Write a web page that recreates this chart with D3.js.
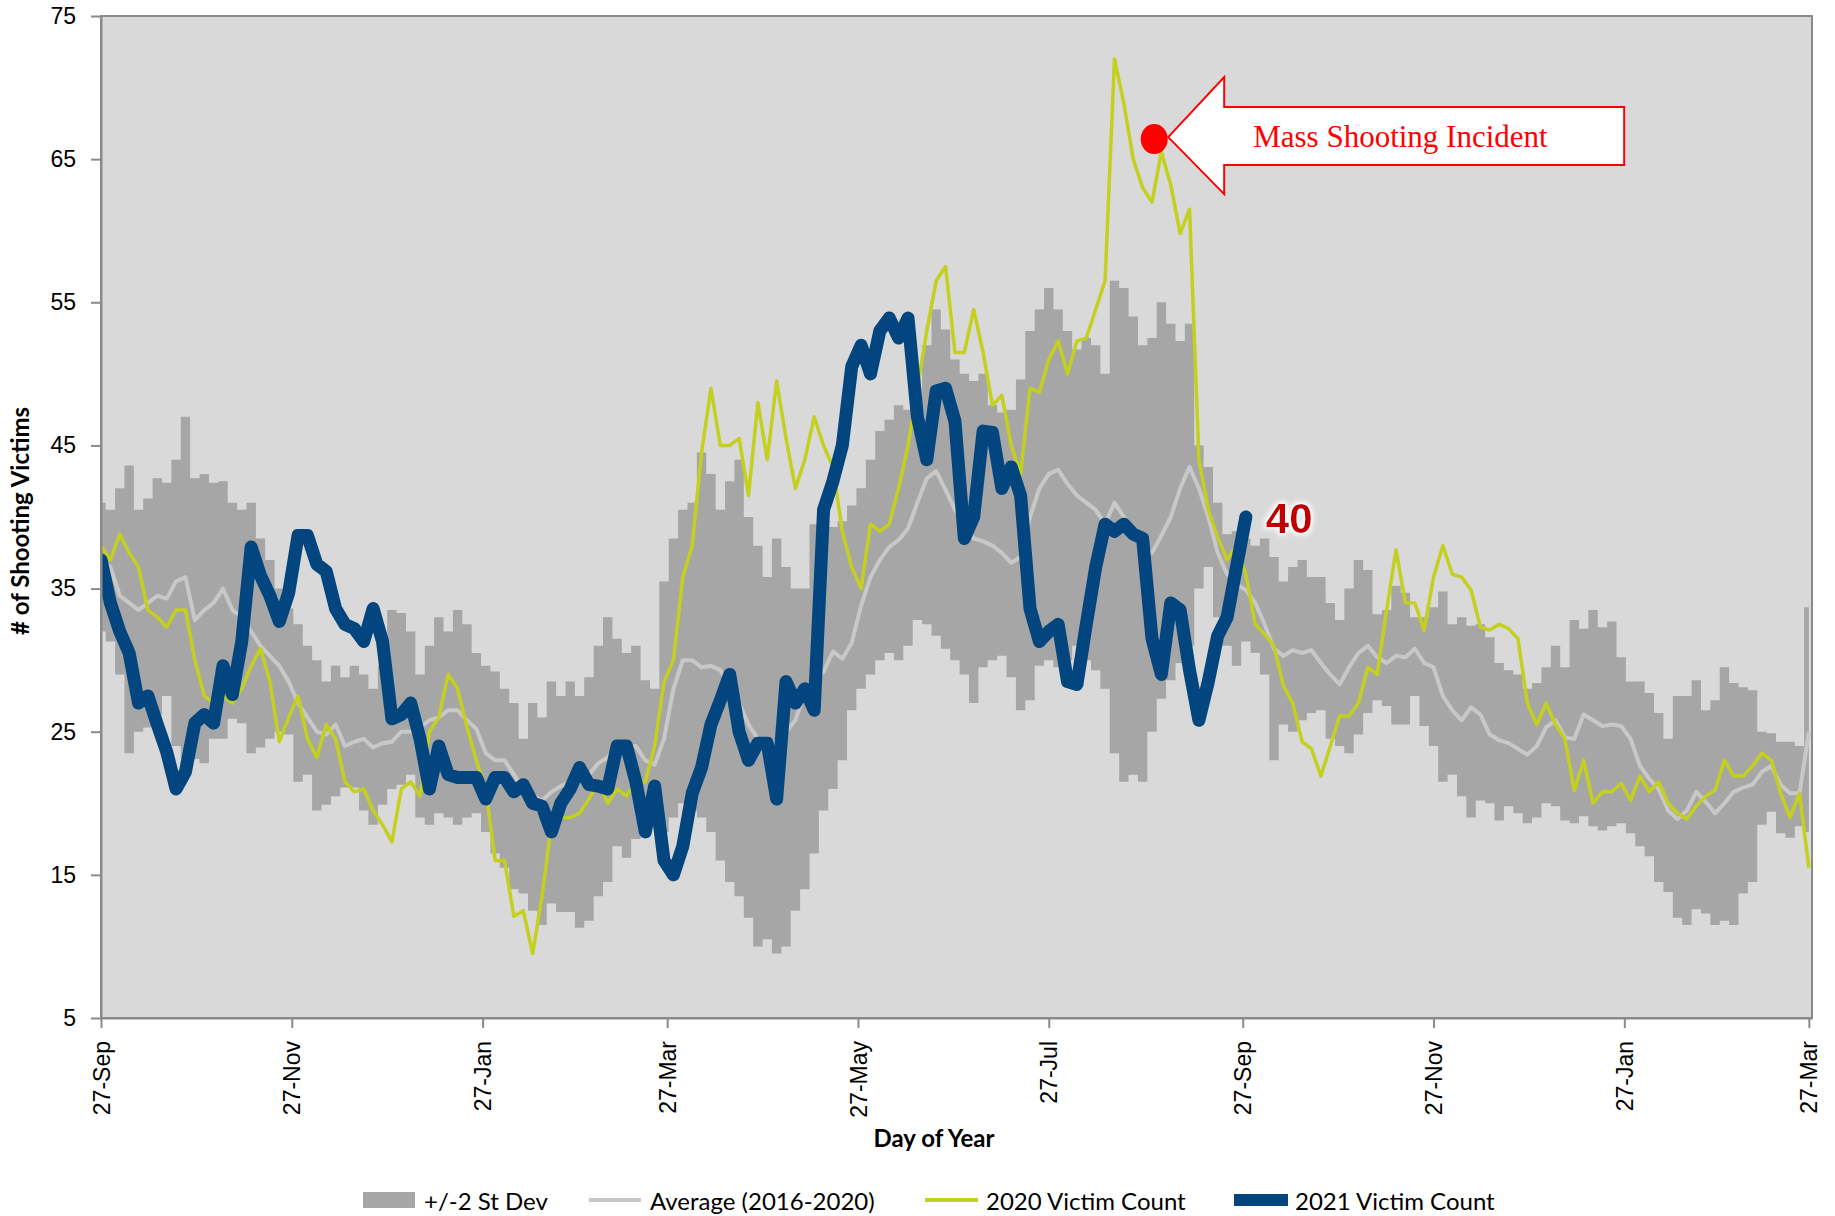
<!DOCTYPE html>
<html>
<head>
<meta charset="utf-8">
<script src="https://cdn.jsdelivr.net/npm/d3@7"></script>
<style>
  body { margin: 0; background: #fff; }
</style>
</head>
<body>
<script>

// one reading every 3 days, day 0 = 27-Sep
let step = 3

// +/-2 st dev band, upper edge
let upper = [
  41, 40.5, 42, 43.6, 40.5, 41.3, 42.7, 42.4, 44, 47,
  42.7, 43, 42.4, 42.5, 41, 40.5, 41, 38.5, 37, 35,
  33.6, 32.5, 31, 30, 28.5, 29.6, 28.8, 29.6, 29, 28,
  29.6, 33.5, 33.3, 32, 29, 31, 33, 32, 33.5, 32.5,
  30.5, 29.6, 29.2, 28, 27, 24.5, 27, 26, 28.5, 27.5,
  28.5, 27.5, 28.8, 31, 33, 31.5, 30.5, 31, 28.6, 28,
  35.5, 38.5, 40.5, 41, 44.5, 43, 40.5, 42.5, 44, 40,
  38, 35.8, 38.5, 36.5, 35, 35, 39.5, 38.5, 39.3, 39.7,
  40.8, 42, 44, 46, 46.8, 47.8, 47.5, 47.2, 52, 54.5,
  53.1, 51, 50, 49.5, 50, 47.8, 47.3, 47.5, 49.6, 53,
  54.5, 56, 54.5, 53, 51.7, 52.5, 52, 50, 56.5, 56,
  54, 52, 52.5, 55, 53.5, 52.3, 53.5, 45, 43.5, 41,
  38.8, 39, 38.5, 38, 38.5, 37.2, 35.5, 36.5, 37, 35.8,
  35.8, 34, 32.8, 35, 37, 36.3, 33.2, 33.5, 35.2, 34.7,
  33, 33, 33.7, 34.8, 32.5, 33, 32.4, 32.5, 31.6, 29.8,
  29.3, 29, 28, 28.4, 29.5, 31, 29.5, 32.8, 32.2, 33.5,
  32.3, 32.7, 30.2, 28.5, 28.5, 27.7, 26.3, 24.5, 27.5, 27.5,
  28.6, 26.5, 27.2, 29.5, 28.4, 28.1, 27.9, 25, 24.9, 24.3,
  24.3, 24, 33.7
]

// +/-2 st dev band, lower edge
let lower = [
  32, 31.3, 29, 23.5, 25, 25.3, 26.2, 27.5, 24, 23.1,
  23.1, 22.8, 24.5, 24.5, 25.9, 25.6, 23.5, 23.9, 24.5, 25,
  24.8, 21.5, 22, 19.5, 19.9, 20.5, 21.1, 21.1, 19.5, 18.5,
  19.9, 21, 21.3, 22, 19, 18.5, 19.3, 19, 18.5, 19,
  19.3, 18, 16.5, 15.5, 14, 13.7, 12.5, 11.5, 13, 12.4,
  12.4, 11.3, 11.8, 13.5, 14.5, 17, 16.2, 17.5, 18, 18.7,
  18, 19, 20, 19.5, 19, 18, 16, 14.5, 13.5, 12,
  10, 10.5, 9.5, 10, 12.5, 14, 16.5, 19.5, 21, 23,
  26.5, 28, 29, 30, 30.5, 30, 31, 32.8, 32.5, 31.7,
  30.8, 30, 29, 27, 29.5, 30, 30.3, 28.8, 26.5, 27.2,
  29.6, 30, 29.5, 30, 31, 30, 29.3, 28, 23.5, 21.5,
  22, 21.5, 25, 27.3, 28.6, 29.8, 31, 35, 36.5, 33,
  31, 29.6, 31.3, 30.5, 29, 23, 25.5, 25, 25.8, 26.3,
  26.5, 24.5, 24, 23.5, 24.8, 26.3, 27.2, 26.8, 25.5, 25.5,
  27.5, 25.4, 24, 21.5, 22, 20.5, 19, 20.2, 20, 18.8,
  19.8, 19.3, 18.6, 19, 20, 19.8, 18.8, 18.6, 19.1, 18.4,
  18.1, 18.4, 18.6, 17.9, 17, 16.3, 14.5, 13.8, 12, 11.5,
  12.6, 12.3, 11.5, 11.8, 11.5, 13.7, 14.5, 18.5, 19.4, 17.9,
  17.6, 18.4, 18
]

// Average (2016-2020)
let average = [
  37, 36.5, 34.5, 34, 33.5, 34, 34.5, 34.3, 35.5, 35.8,
  32.8, 33.5, 34, 35, 33.5, 33, 32, 31, 30.3, 29.6,
  28.5, 27, 26, 25, 24.8, 25.5, 24, 24.3, 24.5, 23.9,
  24.2, 24.3, 25, 25, 25.3, 25.8, 26, 26.5, 26.5, 25.8,
  25.2, 23.5, 23, 23, 22, 21, 20.5, 20.2, 20.8, 21.2,
  21.5, 21.8, 22, 22.8, 23.2, 24, 24, 24, 23, 22.7,
  24.5, 28, 30, 30, 29.5, 29.6, 29.3, 28.2, 27, 25.5,
  24.5, 24.2, 24.3, 25, 25.8, 27.8, 28.5, 29.2, 30.6, 30.1,
  31.2, 33.8, 35.8, 37, 37.9, 38.4, 39.2, 41, 42.7, 43.2,
  41.9, 40.5, 39.5, 38.5, 38.3, 38, 37.5, 36.8, 37.2, 40,
  42, 43, 43.3, 42.3, 41.5, 41, 40.5, 39.5, 41, 40,
  39, 37.8, 37.5, 38.7, 40, 42, 43.5, 42, 40, 37.5,
  36, 35.3, 34.9, 34, 32.5, 30.8, 30.3, 30.7, 30.5, 30.7,
  29.8, 29, 28.3, 29.5, 30.5, 31, 30.2, 29.8, 30.3, 30.2,
  30.8, 29.8, 29.5, 27.5, 26.5, 25.8, 26.7, 26.2, 24.8, 24.4,
  24.2, 23.8, 23.4, 24, 25.3, 25.8, 24.6, 24.5, 26.2, 25.8,
  25.4, 25.5, 25.4, 24.5, 22.6, 21.7, 21, 19.5, 18.9, 19.5,
  20.8, 20.1, 19.3, 20, 20.8, 21.1, 21.3, 22.2, 22.6, 21.3,
  20.7, 20.7, 25
]

// 2020 Victim Count
let count2020 = [
  38, 37, 38.8, 37.5, 36.5, 33.5, 33, 32.3, 33.5, 33.5,
  30, 27.5, 27, 27.5, 27, 28, 29.6, 30.8, 28.5, 24.3,
  26, 27.5, 24.5, 23.2, 25.5, 24.5, 21.5, 20.8, 21, 19.5,
  18.5, 17.3, 21, 21.5, 20.5, 25, 26, 29, 28, 25.3,
  23, 21, 16, 16, 12.1, 12.5, 9.5, 13.5, 18.5, 19,
  19, 19.3, 20.3, 21.5, 20, 21, 20.5, 21.5, 21.5, 24,
  28.5, 30, 35.8, 38, 44.5, 49, 45, 45, 45.5, 41.5,
  48, 44, 49.5, 45.5, 42, 44, 47, 45, 43.5, 39,
  36.5, 35, 39.5, 39, 39.5, 42, 45, 49, 53, 56.5,
  57.5, 51.5, 51.5, 54.5, 51.5, 47.8, 48.5, 45, 43, 49,
  48.7, 51, 52.3, 50, 52.3, 52.5, 54.5, 56.5, 72, 68.9,
  65, 63, 62, 65.5, 63.2, 59.8, 61.5, 44, 40.5, 38.6,
  37, 38, 36, 32.5, 31.8, 31, 28.2, 27, 24.3, 23.8,
  21.9, 24, 26.1, 26.1, 27, 29.5, 29, 33.5, 37.7, 34,
  34, 32.1, 35.8, 38, 36, 35.8, 34.9, 32.3, 32.1, 32.5,
  32.2, 31.5, 27, 25.5, 27, 25.5, 24.5, 20.9, 23, 20,
  20.8, 20.8, 21.4, 20.2, 21.9, 20.8, 21.5, 20, 19.3, 18.9,
  19.8, 20.5, 20.9, 23, 21.9, 21.9, 22.6, 23.5, 23, 20.7,
  19, 20.7, 15.5
]

// 2021 Victim Count
let count2021 = [
  37, 34, 32, 30.5, 27, 27.5, 25.5, 23.6, 21, 22.2,
  25.6, 26.2, 25.6, 29.6, 27.6, 31.3, 37.9, 35.9, 34.5, 32.7,
  34.7, 38.7, 38.7, 36.7, 36.2, 33.6, 32.5, 32.2, 31.3, 33.6,
  31.3, 25.9, 26.2, 27, 24.5, 21, 24, 22, 21.8, 21.8,
  21.8, 20.3, 21.8, 21.8, 20.8, 21.3, 20, 19.8, 18, 20,
  21, 22.5, 21.3, 21.2, 21, 24, 24, 21.5, 18, 21.2,
  16, 15, 17, 20.7, 22.5, 25.5, 27.2, 29, 25, 23,
  24.2, 24.2, 20.3, 28.5, 27, 28, 26.5, 40.5, 42.5, 45,
  50.5, 52, 50, 53, 53.9, 52.5, 53.9, 47, 44, 48.8,
  49, 46.7, 38.5, 40, 46, 45.9, 42, 43.5, 41.5, 33.6,
  31.3, 32, 32.5, 28.5, 28.3, 32.5, 36.5, 39.5, 39, 39.5,
  38.8, 38.5, 31.5, 29, 34, 33.5, 29.3, 25.8, 28.5, 31.7,
  33, 36.5, 40
]

let xTickDays = [0, 61, 122, 181, 242, 303, 365, 426, 487, 546]
let xTickLabels = ['27-Sep', '27-Nov', '27-Jan', '27-Mar', '27-May', '27-Jul', '27-Sep', '27-Nov', '27-Jan', '27-Mar']
let yTicks = [5, 15, 25, 35, 45, 55, 65, 75]

let legendLabels = ['+/-2 St Dev', 'Average (2016-2020)', '2020 Victim Count', '2021 Victim Count']

// the mass shooting marker (day, value)
let incidentDay = 336.7
let incidentValue = 66.4

let width = 1835
let height = 1216
let plotLeft = 101
let plotRight = 1812
let plotTop = 16
let plotBottom = 1018

let svg = d3.select('body')
            .append('svg')
            .attr('width', width)
            .attr('height', height)

let defs = svg.append('defs')
let glow = defs.append('filter').attr('id', 'glow').attr('x', '-30%').attr('y', '-30%').attr('width', '160%').attr('height', '160%')
glow.append('feMorphology').attr('in', 'SourceAlpha').attr('operator', 'dilate').attr('radius', 2).attr('result', 'd')
glow.append('feGaussianBlur').attr('in', 'd').attr('stdDeviation', 2.5).attr('result', 'b')
glow.append('feFlood').attr('flood-color', '#ffffff')
glow.append('feComposite').attr('in2', 'b').attr('operator', 'in').attr('result', 'g')
let merge = glow.append('feMerge')
merge.append('feMergeNode').attr('in', 'g')
merge.append('feMergeNode').attr('in', 'SourceGraphic')

defs.append('clipPath').attr('id', 'plot')
    .append('rect')
    .attr('x', plotLeft).attr('y', plotTop)
    .attr('width', plotRight - plotLeft).attr('height', plotBottom - plotTop)

let xScale = d3.scaleLinear()
               .domain([0, 547])
               .range([plotLeft, plotRight])

let yScale = d3.scaleLinear()
               .domain([5, 75])
               .range([plotBottom, plotTop])

// plot background
svg.append('rect')
   .attr('x', plotLeft).attr('y', plotTop)
   .attr('width', plotRight - plotLeft).attr('height', plotBottom - plotTop)
   .attr('fill', '#d9d9d9')

let plot = svg.append('g').attr('clip-path', 'url(#plot)')

// st dev band
let band = d3.area()
             .x((d, i) => xScale(i * step))
             .y0((d, i) => yScale(lower[i]))
             .y1((d) => yScale(d))
             .curve(d3.curveStep)

plot.append('path')
    .datum(upper)
    .attr('d', band)
    .attr('fill', '#a6a6a6')

let line = d3.line()
             .x((d, i) => xScale(i * step))
             .y((d) => yScale(d))

plot.append('path')
    .datum(average)
    .attr('d', line)
    .attr('fill', 'none')
    .attr('stroke', '#c8c8c8')
    .attr('stroke-width', 4)
    .attr('stroke-linejoin', 'round')

plot.append('path')
    .datum(count2020)
    .attr('d', line)
    .attr('fill', 'none')
    .attr('stroke', '#c4d01f')
    .attr('stroke-width', 3.5)
    .attr('stroke-linejoin', 'round')

plot.append('path')
    .datum(count2021)
    .attr('d', line)
    .attr('fill', 'none')
    .attr('stroke', '#03467f')
    .attr('stroke-width', 13)
    .attr('stroke-linejoin', 'round')
    .attr('stroke-linecap', 'round')

// border of the plot area
svg.append('rect')
   .attr('x', plotLeft).attr('y', plotTop)
   .attr('width', plotRight - plotLeft).attr('height', plotBottom - plotTop)
   .attr('fill', 'none')
   .attr('stroke', '#8a8a8a')
   .attr('stroke-width', 2)

// axes
let xAxis = d3.axisBottom(xScale)
              .tickValues(xTickDays)
              .tickFormat((d, i) => xTickLabels[i])
              .tickSize(10)
              .tickSizeOuter(0)

let yAxis = d3.axisLeft(yScale)
              .tickValues(yTicks)
              .tickSize(10)
              .tickSizeOuter(0)
              .tickPadding(15)

let gx = svg.append('g')
            .attr('transform', 'translate(0,' + plotBottom + ')')
            .call(xAxis)

gx.selectAll('text')
  .attr('transform', 'rotate(-90)')
  .attr('text-anchor', 'end')
  .attr('x', -23)
  .attr('y', 0)
  .attr('dy', '0.35em')

let gy = svg.append('g')
            .attr('transform', 'translate(' + plotLeft + ',0)')
            .call(yAxis)

for (let g of [gx, gy]) {
  g.attr('font-family', '"Liberation Sans", Arial, sans-serif')
   .attr('font-size', 23)
  g.selectAll('text').attr('fill', '#000')
  g.selectAll('line').attr('stroke', '#8a8a8a').attr('stroke-width', 2)
  g.select('.domain').attr('stroke', '#8a8a8a').attr('stroke-width', 2)
}

// axis titles
svg.append('text')
   .attr('x', 934)
   .attr('y', 1147)
   .attr('text-anchor', 'middle')
   .attr('font-family', 'Lato, sans-serif')
   .attr('font-weight', 'bold')
   .attr('font-size', 24)
   .text('Day of Year')

svg.append('text')
   .attr('transform', 'translate(29,521) rotate(-90)')
   .attr('text-anchor', 'middle')
   .attr('font-family', 'Lato, sans-serif')
   .attr('font-weight', 'bold')
   .attr('font-size', 24)
   .text('# of Shooting Victims')

// end label of the 2021 line
let lastIndex = count2021.length - 1
svg.append('text')
   .attr('x', xScale(lastIndex * step) + 20)
   .attr('y', yScale(count2021[lastIndex]) + 16)
   .attr('font-family', '"Liberation Sans", Arial, sans-serif')
   .attr('font-weight', 'bold')
   .attr('font-size', 42)
   .attr('fill', '#c00000')
   .attr('filter', 'url(#glow)')
   .text(count2021[lastIndex])

// mass shooting callout
let cx = xScale(incidentDay)
let cy = yScale(incidentValue)
let tipX = cx + 14
let tipY = cy - 2
let arrow = [
  [tipX, tipY],
  [tipX + 56, tipY - 60],
  [tipX + 56, tipY - 30],
  [tipX + 456, tipY - 30],
  [tipX + 456, tipY + 28],
  [tipX + 56, tipY + 28],
  [tipX + 56, tipY + 57]
]

svg.append('polygon')
   .attr('points', arrow.map(p => p.join(',')).join(' '))
   .attr('fill', '#ffffff')
   .attr('stroke', '#ff0000')
   .attr('stroke-width', 2)

svg.append('text')
   .attr('x', tipX + 85)
   .attr('y', tipY + 10)
   .attr('font-family', '"Liberation Serif", "DejaVu Serif", serif')
   .attr('font-size', 31)
   .attr('fill', '#ff0000')
   .text('Mass Shooting Incident')

svg.append('ellipse')
   .attr('cx', cx)
   .attr('cy', cy)
   .attr('rx', 13.5)
   .attr('ry', 15)
   .attr('fill', '#ff0000')

// legend
let legendX = [363, 589, 925, 1234]
let legend = svg.append('g')
                .attr('font-family', 'Lato, sans-serif')
                .attr('font-size', 24)

legend.append('rect')
      .attr('x', legendX[0]).attr('y', 1192)
      .attr('width', 52).attr('height', 16)
      .attr('fill', '#a6a6a6')

legend.append('line')
      .attr('x1', legendX[1]).attr('x2', legendX[1] + 52)
      .attr('y1', 1200).attr('y2', 1200)
      .attr('stroke', '#c8c8c8').attr('stroke-width', 4)

legend.append('line')
      .attr('x1', legendX[2]).attr('x2', legendX[2] + 53)
      .attr('y1', 1200).attr('y2', 1200)
      .attr('stroke', '#c4d01f').attr('stroke-width', 4)

legend.append('rect')
      .attr('x', legendX[3]).attr('y', 1194)
      .attr('width', 54).attr('height', 12)
      .attr('fill', '#03467f')

legend.selectAll('text')
      .data(legendLabels)
      .enter()
      .append('text')
      .attr('x', (d, i) => legendX[i] + 61)
      .attr('y', 1210)
      .attr('fill', '#000')
      .text(d => d)

</script>
</body>
</html>
